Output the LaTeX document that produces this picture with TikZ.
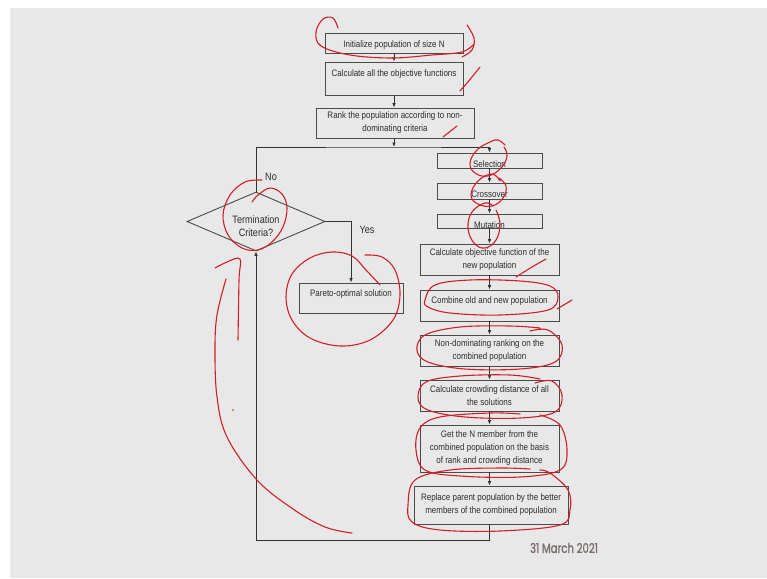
\documentclass[tikz,border=0pt]{standalone}
\usepackage{fontspec}
\setmainfont{Liberation Sans}
\newfontfamily\boxfont[FakeStretch=0.85]{Liberation Sans}
\newfontfamily\datefont[FakeStretch=0.75, FakeBold=1.2]{Poppins}
\usetikzlibrary{shapes.geometric,arrows.meta}

\definecolor{slidebg}{RGB}{232,232,232}
\definecolor{boxline}{RGB}{75,75,75}
\definecolor{linkline}{RGB}{50,50,50}
\definecolor{textgray}{RGB}{45,45,45}
\definecolor{penred}{RGB}{210,30,40}
\definecolor{dategray}{RGB}{120,110,108}

% single-line text moved up (+) or down (-) inside its box
\newcommand\liftedtext[2]{\smash{\raisebox{#1}{#2}}}

\tikzset{
  box/.style={draw=boxline, line width=0.9pt, inner sep=0pt, align=center,
    font=\boxfont\fontsize{9.4}{13}\selectfont, text=textgray},
  decision/.style={diamond, draw=boxline, line width=0.9pt, inner sep=0pt,
    minimum width=138pt, minimum height=59pt},
  decisiontext/.style={align=center, inner sep=0pt,
    font=\boxfont\fontsize{10.7}{12.5}\selectfont, text=textgray},
  branchlabel/.style={inner sep=0pt, font=\boxfont\fontsize{10.7}{12}\selectfont, text=textgray},
  link/.style={draw=linkline, line width=0.8pt, -{Latex[length=4.5pt,width=3.6pt]}},
  pen/.style={draw=penred, line width=1.1pt, line cap=round, line join=round},
}

\begin{document}
\begin{tikzpicture}[x=1pt, y=-1pt]
\useasboundingbox (0,0) rectangle (767,578);
\fill[white] (0,0) rectangle (767,578);
\fill[slidebg] (10,8) rectangle (767,578);

% main column
\node[box, minimum width=138pt, minimum height=20pt] (init) at (394,43)
  {\liftedtext{-4.4pt}{Initialize population of size N}};
\node[box, minimum width=138pt, minimum height=33pt] (calc) at (394,78.5)
  {\liftedtext{2.1pt}{Calculate all the objective functions}};
\node[box, minimum width=158pt, minimum height=30pt] (rank) at (395,123)
  {Rank the population according to non-\\dominating criteria};

% genetic operators and the rest of the generation step
\node[box, minimum width=105pt, minimum height=15pt] (sel) at (489.5,160.5)
  {\liftedtext{-6.9pt}{Selection}};
\node[box, minimum width=105pt, minimum height=16pt] (cross) at (489.5,191)
  {\liftedtext{-6.4pt}{Crossover}};
\node[box, minimum width=105pt, minimum height=14pt] (mut) at (489.5,221)
  {\liftedtext{-7.4pt}{Mutation}};
\node[box, minimum width=139pt, minimum height=31pt] (calcobj) at (489.5,259.5)
  {Calculate objective function of the\\new population};
\node[box, minimum width=139pt, minimum height=31pt] (combine) at (489.5,305.5)
  {\liftedtext{2.1pt}{Combine old and new population}};
\node[box, minimum width=139pt, minimum height=31pt] (nondom) at (489.5,350.5)
  {Non-dominating ranking on the\\combined population};
\node[box, minimum width=139pt, minimum height=31pt] (crowd) at (489.5,395.5)
  {Calculate crowding distance of all\\the solutions};
\node[box, minimum width=139pt, minimum height=47pt] (getn) at (489.5,448.5)
  {Get the N member from the\\combined population on the basis\\of rank and crowding distance};
\node[box, minimum width=154pt, minimum height=38pt] (replace) at (491,505)
  {Replace parent population by the better\\members of the combined population};

% decision and result
\node[decision] (term) at (256,221.5) {};
\node[decisiontext] (termtext) at (256,226) {Termination\\Criteria?};
\node[box, minimum width=104pt, minimum height=30pt] (pareto) at (351,298)
  {\liftedtext{1.6pt}{Pareto-optimal solution}};

\node[branchlabel] (nolabel) at (271,177) {No};
\node[branchlabel] (yeslabel) at (367,230) {Yes};

% connectors
\coordinate (J) at (394,147);
\coordinate (loopcorner) at (256,540);
\draw[link] (init.south) -- (calc.north);
\draw[link] (calc.south) -- (calc.south |- rank.north);
\draw[link] (rank.south -| J) -- (J);
\draw[link] (term.north) |- (J) -| (sel.north);
\draw[link] (sel) -- (cross);
\draw[link] (cross) -- (mut);
\draw[link] (mut) -- (calcobj);
\draw[link] (calcobj) -- (combine);
\draw[link] (combine) -- (nondom);
\draw[link] (nondom) -- (crowd);
\draw[link] (crowd) -- (getn);
\draw[link] (getn.south) -- (getn.south |- replace.north);
\draw[link] (replace.south -| getn.south) |- (loopcorner) -- (term.south);
\draw[link] (term.east) -| (pareto.north);

% date
\node[inner sep=0pt, text=dategray, font=\datefont\fontsize{13.5}{14}\selectfont] (date) at (564,548) {31 March 2021};

% hand-drawn red pen marks
\draw[pen] plot[smooth, tension=0.6] coordinates {(338,28) (333,18) (323,19) (316,32) (321,46) (350,55) (392,58) (432,55) (462,52) (474,44)};
\draw[pen] plot[smooth, tension=0.6] coordinates {(467,25) (474,38) (472,50) (462,57)};
\draw[pen] (460,91) .. controls (468,82) .. (480,67);
\draw[pen] (443,137) -- (457,126);
\draw[pen] plot[smooth, tension=0.7] coordinates {(505,145) (498,140) (490,142) (477,150) (470,163) (475,173) (488,176) (501,168) (507,156) (504,147)};
\draw[pen] plot[smooth, tension=0.7] coordinates {(500,181) (492,174) (478,181) (471,195) (478,204) (492,206) (503,198) (506,186) (499,178)};
\draw[pen] plot[smooth, tension=0.7] coordinates {(493,206) (485,203) (472,212) (468,228) (474,243) (485,248) (496,240) (500,224) (496,210)};
\draw[pen] plot[smooth, tension=0.6] coordinates {(516,277) (532,267) (546,259)};
\draw[pen] plot[smooth cycle, tension=0.6] coordinates {(425,300) (435,285) (470,280) (520,281) (550,286) (558,297) (548,310) (500,315) (450,313) (428,307)};
\draw[pen] (557,309) -- (572,300);
\draw[pen] plot[smooth, tension=0.6] coordinates {(540,328) (510,326) (460,327) (425,335) (417,350) (428,362) (465,369) (520,369) (555,362) (562,345) (548,330) (530,331)};
\draw[pen] plot[smooth, tension=0.6] coordinates {(540,379) (510,375) (460,376) (426,382) (418,398) (428,410) (465,417) (520,418) (555,412) (562,395) (552,381) (535,383)};
\draw[pen] plot[smooth, tension=0.6] coordinates {(520,414) (490,413) (440,417) (420,428) (416,450) (425,470) (460,476) (520,477) (560,470) (567,450) (560,425) (540,415)};
\draw[pen] plot[smooth, tension=0.6] coordinates {(530,469) (500,468) (450,470) (415,480) (408,505) (412,522) (440,530) (500,531) (560,525) (570,510) (568,490) (550,473) (540,470)};
\draw[pen] plot[smooth, tension=0.6] coordinates {(380,285) (366,270) (352,256) (332,252) (310,258) (292,274) (286,297) (292,320) (310,338) (340,346) (370,340) (393,320) (400,295) (395,270) (382,257) (365,255)};
\draw[pen] plot[smooth, tension=0.6] coordinates {(262,180) (245,182) (230,195) (223,215) (228,235) (242,248) (258,250) (272,242) (283,227) (287,208) (282,194) (270,188) (258,195) (252,202)};
\draw[pen] plot[smooth, tension=0.6] coordinates {(215,268) (227,262) (240,259) (239,280) (238,340)};
\draw[pen] plot[smooth, tension=0.6] coordinates {(226,279) (217,315) (215,350) (217,397) (227,437) (257,480) (293,509) (325,527) (352,533)};
\fill[penred] (233,410) circle[radius=0.9pt];
\end{tikzpicture}
\end{document}
